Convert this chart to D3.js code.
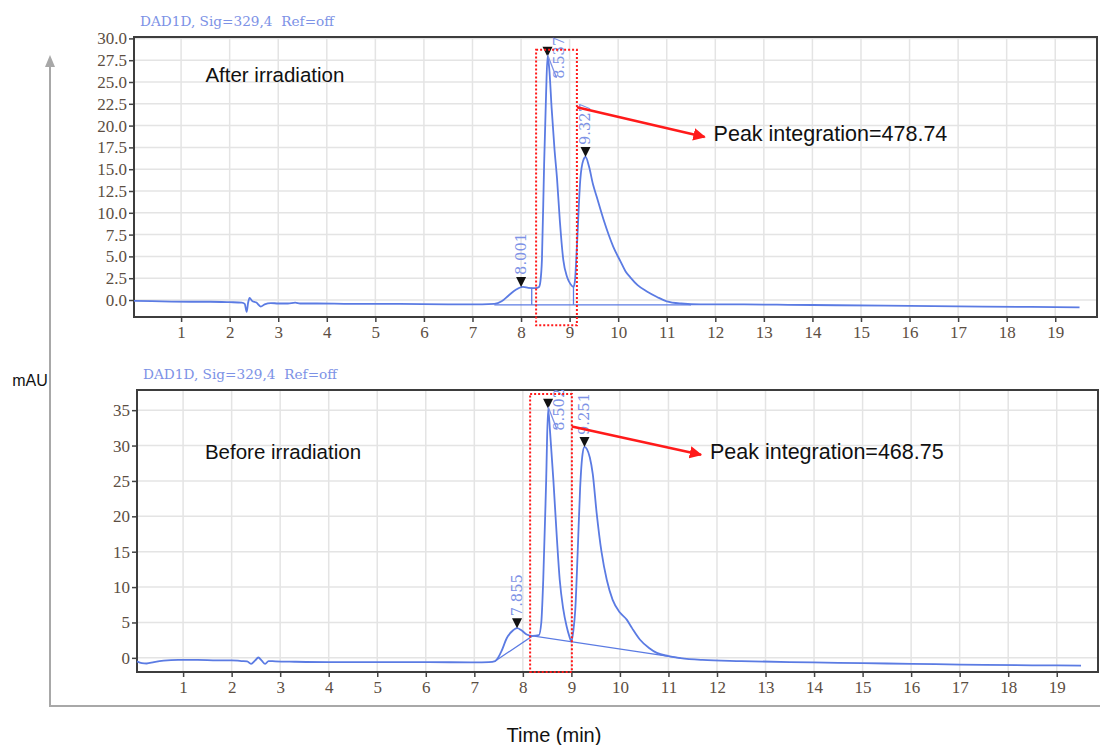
<!DOCTYPE html>
<html><head><meta charset="utf-8">
<script src="https://cdn.jsdelivr.net/npm/d3@7"></script>
<style>body{margin:0;background:#fff} svg{display:block}</style>
</head><body>
<svg id="chart" width="1100" height="745"></svg>
<script>
// ---------- data ----------
const timeTicks = d3.range(1, 20);
const topYTicks = [0, 2.5, 5, 7.5, 10, 12.5, 15, 17.5, 20, 22.5, 25, 27.5, 30];
const bottomYTicks = [0, 5, 10, 15, 20, 25, 30, 35];
const headerText = "DAD1D, Sig=329,4  Ref=off";
const panelTitles = ["After irradiation", "Before irradiation"];
const integrationTexts = ["Peak integration=478.74", "Peak integration=468.75"];
const xAxisTitle = "Time (min)";
const yAxisTitle = "mAU";

// [time (min), mAU]
const topTrace = [[0.03,-0.1],[0.4,-0.12],[0.8,-0.18],[1.2,-0.2],[1.6,-0.2],[2.0,-0.25],[2.25,-0.3],[2.31,-0.45],[2.35,-1.35],[2.38,-0.3],[2.41,0.25],[2.46,-0.1],[2.55,-0.3],[2.64,-0.75],[2.72,-0.5],[2.85,-0.35],[3.0,-0.4],[3.2,-0.4],[3.35,-0.3],[3.45,-0.4],[3.8,-0.4],[4.5,-0.45],[5.5,-0.45],[6.5,-0.5],[7.2,-0.5],[7.45,-0.45],[7.6,-0.15],[7.75,0.55],[7.9,1.2],[8.04,1.5],[8.15,1.4],[8.3,1.35],[8.37,1.5],[8.40,2.2],[8.43,4.6],[8.475,15.5],[8.515,23.5],[8.545,27.9],[8.58,26.6],[8.63,22],[8.69,17.2],[8.74,14],[8.8,9],[8.87,4.6],[8.95,2.6],[9.02,1.8],[9.08,1.5],[9.11,2.2],[9.15,6.1],[9.22,13.8],[9.28,16],[9.33,16.4],[9.4,15.3],[9.48,13.3],[9.56,11.8],[9.7,9.2],[9.9,6.1],[10.05,4.4],[10.15,3.3],[10.25,2.6],[10.4,1.7],[10.6,0.95],[10.8,0.35],[11.0,-0.15],[11.3,-0.4],[11.7,-0.5],[12.5,-0.5],[13.5,-0.55],[14.5,-0.6],[15.5,-0.65],[16.5,-0.7],[17.5,-0.75],[18.5,-0.8],[19.5,-0.85]];
const bottomTrace = [[0.05,-0.5],[0.15,-0.75],[0.25,-0.8],[0.4,-0.6],[0.6,-0.4],[0.9,-0.3],[1.3,-0.3],[1.7,-0.35],[2.0,-0.35],[2.2,-0.45],[2.32,-0.5],[2.4,-0.85],[2.48,-0.4],[2.55,0.05],[2.62,-0.4],[2.69,-0.85],[2.76,-0.45],[2.9,-0.5],[3.3,-0.55],[4,-0.6],[5,-0.6],[6,-0.6],[7.0,-0.65],[7.3,-0.6],[7.43,-0.45],[7.55,0.8],[7.67,2.8],[7.8,3.9],[7.88,4.2],[7.97,3.9],[8.08,3.3],[8.2,3.1],[8.33,3.2],[8.38,5],[8.42,11],[8.48,25],[8.52,35.2],[8.56,32],[8.63,25],[8.7,17],[8.76,11],[8.83,7],[8.9,4.5],[8.96,3.0],[9.0,2.3],[9.04,3.8],[9.08,6.8],[9.13,15],[9.18,24],[9.23,28.8],[9.27,29.8],[9.32,29.5],[9.38,28.3],[9.44,26],[9.52,20.5],[9.62,15],[9.73,11],[9.85,8.2],[10.0,6.4],[10.14,5.4],[10.25,4.2],[10.41,2.6],[10.6,1.4],[10.76,0.7],[11.0,0.25],[11.25,-0.05],[11.7,-0.3],[12.5,-0.45],[13.5,-0.6],[14.5,-0.7],[15.5,-0.8],[16.5,-0.9],[17.5,-1.0],[18.5,-1.05],[19.5,-1.1]];

// integration baselines and drop lines
const topBaseline = [[7.45,-0.55],[11.5,-0.55]];
const topDropLines = [[[8.22,1.4],[8.22,-0.55]], [[9.08,1.5],[9.08,-0.55]]];
const bottomBaseline = [[7.43,-0.45],[8.2,3.1],[11.25,-0.05]];

// peaks: retention time, apex mAU, label
const topPeaks = [{t:8.001, v:1.5, label:"8.001", leader:false},{t:8.545, v:27.9, label:"8.537", leader:true},{t:9.327, v:16.4, label:"9.327", leader:false}];
const bottomPeaks = [{t:7.88, v:4.2, label:"7.855", leader:false},{t:8.52, v:35.2, label:"8.502", leader:true},{t:9.27, v:29.8, label:"9.251", leader:false}];

// highlighted integration windows [t0,t1],[v0,v1] and arrows [from],[to]
const topWindow = {t:[8.31, 9.15], v:[-2.9, 28.7]};
const bottomWindow = {t:[8.15, 9.01], v:[-2.0, 37.3]};
const topArrow = [[9.15, 22.1], [11.78, 18.7]];
const bottomArrow = [[9.01, 32.7], [11.67, 28.7]];
const topTitlePos = [1.5, 25.0];
const bottomTitlePos = [1.45, 28.1];

// ---------- drawing ----------
const svg = d3.select("#chart");
const TRACE = "#5b7be3";
const LABEL_BLUE = "#7d92e6";
const TICK_COLOR = "#5c4e42";
const SANS = "Liberation Sans, Arial, sans-serif";

const defs = svg.append("defs");
defs.append("marker").attr("id","redArrow").attr("viewBox","0 0 10 10")
  .attr("refX",9).attr("refY",5).attr("markerWidth",5).attr("markerHeight",5)
  .attr("orient","auto").append("path").attr("d","M0,0 L10,5 L0,10 Z").attr("fill","#ff1a1a");

// outer frame (gray L-shape with arrow)
svg.append("line").attr("x1",50).attr("y1",62).attr("x2",50).attr("y2",706)
  .attr("stroke","#a8a8a8").attr("stroke-width",2);
svg.append("line").attr("x1",49).attr("y1",706).attr("x2",1100).attr("y2",706)
  .attr("stroke","#a8a8a8").attr("stroke-width",2);
svg.append("path").attr("d","M50,55 L45,67 L55,67 Z").attr("fill","#a8a8a8");

svg.append("text").attr("x",30).attr("y",386).attr("text-anchor","middle")
  .attr("font-family",SANS).attr("font-size",16).attr("fill","#111").text(yAxisTitle);
svg.append("text").attr("x",554).attr("y",742).attr("text-anchor","middle")
  .attr("font-family",SANS).attr("font-size",20).attr("fill","#111").text(xAxisTitle);

function drawPanel(cfg) {
  const x = d3.scaleLinear().domain(cfg.xDomain).range(cfg.xRange);
  const y = d3.scaleLinear().domain(cfg.yDomain).range(cfg.yRange);
  const g = svg.append("g");
  const [L, R] = cfg.xRange, [B, T] = cfg.yRange;

  // header
  g.append("text").attr("x", L + 6).attr("y", T - 11)
    .attr("font-family","DejaVu Serif, Liberation Serif, serif").attr("font-size",13)
    .attr("fill", LABEL_BLUE).attr("textLength",194).attr("lengthAdjust","spacingAndGlyphs")
    .attr("xml:space","preserve").text(headerText);

  // grid
  g.append("g").selectAll("line").data(timeTicks).join("line")
    .attr("x1", d => x(d)).attr("x2", d => x(d)).attr("y1", T).attr("y2", B)
    .attr("stroke","#e4e4e4").attr("stroke-width",1.5);
  g.append("g").selectAll("line").data(cfg.yTicks).join("line")
    .attr("x1", L).attr("x2", R).attr("y1", d => y(d)).attr("y2", d => y(d))
    .attr("stroke","#e4e4e4").attr("stroke-width",1.5);

  // axes
  const yAxis = d3.axisLeft(y).tickValues(cfg.yTicks).tickSize(5).tickPadding(2).tickFormat(cfg.yFormat);
  const ya = g.append("g").attr("transform", `translate(${L},0)`).call(yAxis);
  const xAxis = d3.axisBottom(x).tickValues(timeTicks).tickSize(5).tickPadding(4).tickFormat(d3.format("d"));
  const xa = g.append("g").attr("transform", `translate(0,${B})`).call(xAxis);
  [ya, xa].forEach(a => {
    a.select(".domain").remove();
    a.selectAll(".tick line").attr("stroke","#444").attr("stroke-width",1.5);
    a.selectAll(".tick text").attr("font-family","Liberation Serif, DejaVu Serif, serif")
      .attr("font-size",17).attr("fill",TICK_COLOR);
  });

  // box
  g.append("rect").attr("x",L).attr("y",T).attr("width",R-L).attr("height",B-T)
    .attr("fill","none").attr("stroke","#3d3d3d").attr("stroke-width",2);

  // title
  g.append("text").attr("x", x(cfg.titlePos[0])).attr("y", y(cfg.titlePos[1]))
    .attr("font-family",SANS).attr("font-size",20.5)
    .attr("fill","#111").text(cfg.title);

  const line = d3.line().x(d => x(d[0])).y(d => y(d[1]));
  // integration baselines
  g.append("path").datum(cfg.baseline).attr("d", line).attr("fill","none")
    .attr("stroke", TRACE).attr("stroke-width",1.3);
  (cfg.drops || []).forEach(dl => g.append("path").datum(dl).attr("d", line)
    .attr("fill","none").attr("stroke", TRACE).attr("stroke-width",1.3));
  // trace
  g.append("path").datum(cfg.trace).attr("d", line.curve(d3.curveMonotoneX))
    .attr("fill","none").attr("stroke", TRACE).attr("stroke-width",1.8);

  // peak markers & labels
  cfg.peaks.forEach(p => {
    const px = x(p.t), py = y(p.v);
    g.append("path").attr("d", `M${px-5},${py-10} L${px+5},${py-10} L${px},${py} Z`).attr("fill","#111");
    let lx = px, ly = py - 12;
    if (p.leader) {
      lx = px + 11; ly = py + 22;
      g.append("line").attr("x1", px).attr("y1", py - 2).attr("x2", px + 9).attr("y2", py + 21)
        .attr("stroke", LABEL_BLUE).attr("stroke-width",1.3);
    }
    g.append("text").attr("transform", `translate(${lx + 5},${ly}) rotate(-90)`)
      .attr("font-family","DejaVu Serif, Liberation Serif, serif").attr("font-size",14)
      .attr("fill", LABEL_BLUE).attr("textLength",42).attr("lengthAdjust","spacingAndGlyphs")
      .text(p.label);
  });

  // red dotted window
  const w = cfg.window;
  g.append("rect").attr("x", x(w.t[0])).attr("y", y(w.v[1]))
    .attr("width", x(w.t[1]) - x(w.t[0])).attr("height", y(w.v[0]) - y(w.v[1]))
    .attr("fill","none").attr("stroke","#ff1a1a").attr("stroke-width",2).attr("stroke-dasharray","2,2");
  // arrow + text
  const a = cfg.arrow;
  g.append("line").attr("x1", x(a[0][0])).attr("y1", y(a[0][1])).attr("x2", x(a[1][0])).attr("y2", y(a[1][1]))
    .attr("stroke","#ff1a1a").attr("stroke-width",2.5).attr("marker-end","url(#redArrow)");
  g.append("text").attr("x", x(a[1][0]) + 9).attr("y", y(a[1][1]) + 4)
    .attr("font-family",SANS).attr("font-size",21.5)
    .attr("fill","#111").text(cfg.integration);
}

drawPanel({
  xDomain:[0.03, 19.86], xRange:[134, 1097],
  yDomain:[-1.95, 30.16], yRange:[317, 37],
  yTicks: topYTicks, yFormat: d3.format(".1f"),
  trace: topTrace, baseline: topBaseline, drops: topDropLines,
  peaks: topPeaks, window: topWindow, arrow: topArrow,
  title: panelTitles[0], titlePos: topTitlePos, integration: integrationTexts[0]
});
drawPanel({
  xDomain:[0.05, 19.85], xRange:[137, 1098],
  yDomain:[-2, 37.85], yRange:[672, 390],
  yTicks: bottomYTicks, yFormat: d3.format("d"),
  trace: bottomTrace, baseline: bottomBaseline, drops: [],
  peaks: bottomPeaks, window: bottomWindow, arrow: bottomArrow,
  title: panelTitles[1], titlePos: bottomTitlePos, integration: integrationTexts[1]
});
</script>
</body></html>
